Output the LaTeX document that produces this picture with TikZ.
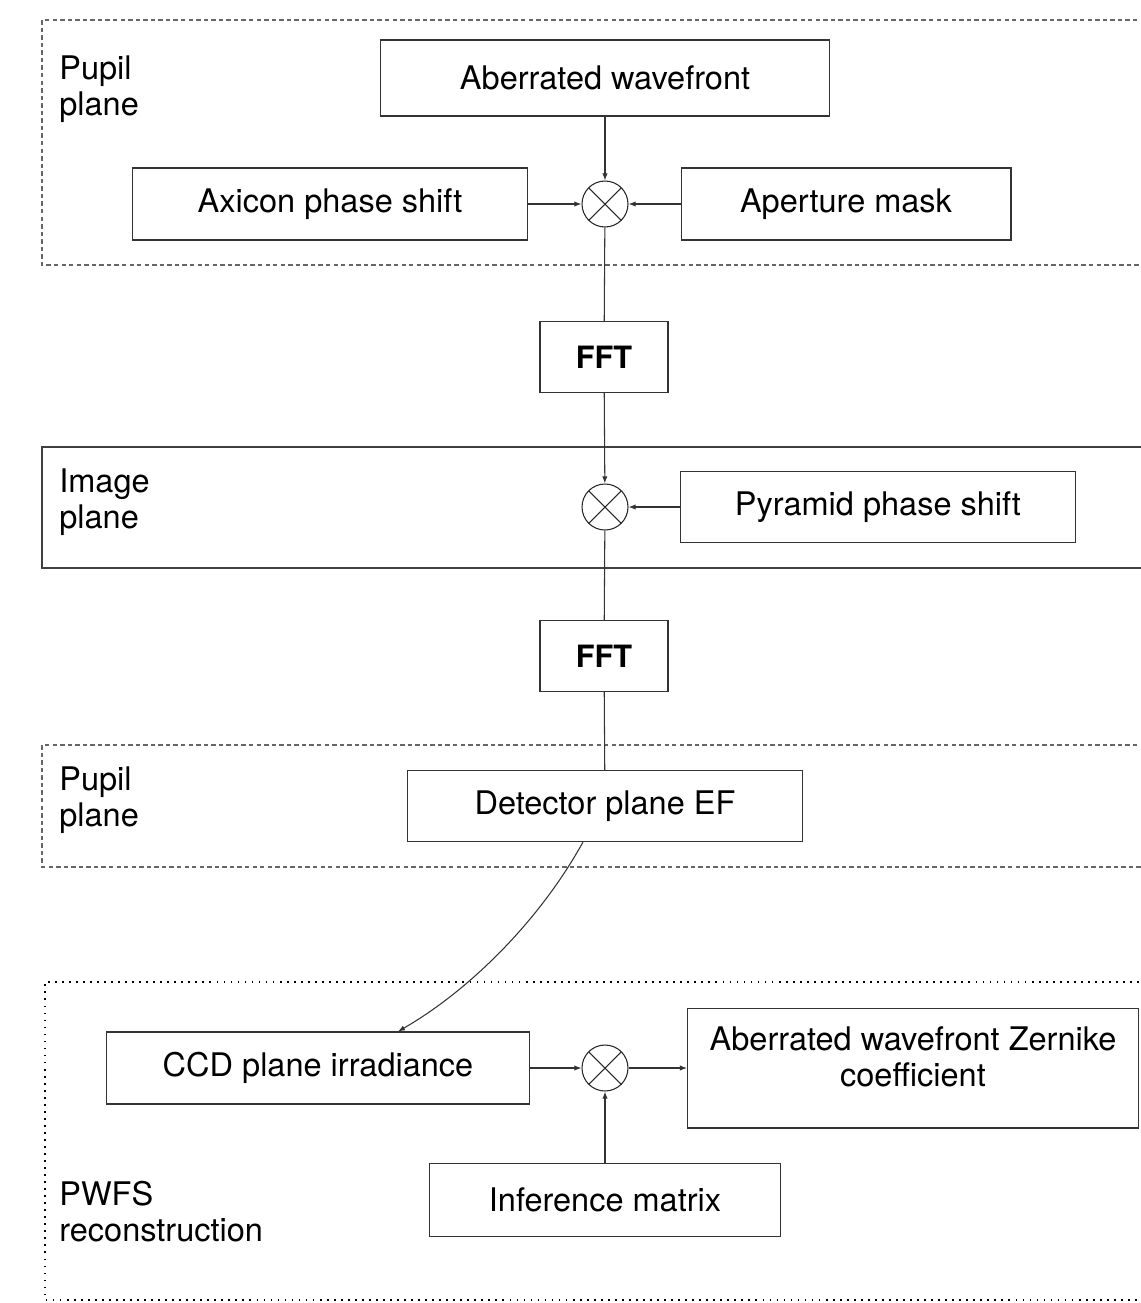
\documentclass[tikz,border=0pt]{standalone}
\usepackage{fontspec}
\setmainfont{TeX Gyre Heros}
\usetikzlibrary{arrows.meta}

\tikzset{
    block/.style={draw=black!80, line width=0.6pt, rectangle, inner sep=0pt, font=\fontsize{18.5}{20.6}\selectfont},
    fftblock/.style={block, minimum width=2.56cm, minimum height=1.42cm, font=\fontsize{17.5}{20.6}\selectfont\bfseries},
    mult/.style={draw=black!85, line width=0.6pt, circle, minimum size=0.92cm, inner sep=0pt,
        path picture={\draw[line width=0.6pt] (path picture bounding box.north west) -- (path picture bounding box.south east)
            (path picture bounding box.north east) -- (path picture bounding box.south west);}},
    planelabel/.style={anchor=north west, inner sep=0pt, align=left, font=\fontsize{18.5}{20.6}\selectfont},
    link/.style={line width=0.6pt, draw=black!80, -{Latex[length=4pt, width=3pt]}},
    wire/.style={line width=0.6pt, draw=black!80},
}

\begin{document}
\begin{tikzpicture}[x=0.02cm, y=-0.02cm]
    \useasboundingbox (0, 0) rectangle (1141, 1303);
    \clip (0, 0) rectangle (1141, 1303);

    % plane frames
    \draw[black!60, line width=0.6pt, dash pattern=on 2.5pt off 1.8pt] (1160, 20) -| (42, 265) -- (1160, 265);
    \draw[black!75, line width=0.6pt] (1160, 447) -| (42, 568) -- (1160, 568);
    \draw[black!60, line width=0.6pt, dash pattern=on 2.5pt off 1.8pt] (1160, 745) -| (42, 867) -- (1160, 867);
    \draw[black, line width=1pt, dash pattern=on 1pt off 3pt] (1160, 982) -| (45, 1300) -- (1160, 1300);

    \node[planelabel] at (59, 55) (P1lbl) {Pupil\\plane};
    \node[planelabel] at (59, 468) (I1lbl) {Image\\plane};
    \node[planelabel] at (59, 766) (P2lbl) {Pupil\\plane};
    \node[planelabel] at (59, 1181) (R1lbl) {PWFS\\reconstruction};

    % pupil plane
    \node[block, minimum width=9cm, minimum height=1.52cm] at (605, 78) (wavefront) {Aberrated wavefront};
    \node[block, minimum width=7.92cm, minimum height=1.44cm] at (330, 204) (axicon) {Axicon phase shift};
    \node[mult] at (605, 204) (M1) {};
    \node[block, minimum width=6.6cm, minimum height=1.44cm] at (846, 204) (aperture) {Aperture mask};
    \node[fftblock] at (604, 357) (FFT1) {FFT};

    % image plane
    \node[mult] at (605, 507) (M2) {};
    \node[block, minimum width=7.9cm, minimum height=1.42cm] at (878, 507) (pyramid) {Pyramid phase shift};
    \node[fftblock] at (604, 656) (FFT2) {FFT};

    % detector
    \node[block, minimum width=7.9cm, minimum height=1.42cm] at (605, 806) (detector) {Detector plane EF};

    % reconstruction
    \node[block, minimum width=8.48cm, minimum height=1.44cm] at (318, 1068) (ccd) {CCD plane irradiance};
    \node[mult] at (605, 1068) (M3) {};
    \node[block, minimum width=9.02cm, minimum height=2.4cm,
        label={[anchor=north, inner sep=0pt, yshift=-0.38cm, align=center, font=\fontsize{18.5}{20.6}\selectfont]north:Aberrated wavefront Zernike\\coefficient}]
        at (913, 1068) (zernike) {};
    \node[block, minimum width=7.04cm, minimum height=1.46cm] at (605, 1200) (inference) {Inference matrix};

    \draw[link] (wavefront) -- (M1);
    \draw[link] (axicon) -- (M1);
    \draw[link] (aperture) -- (M1);
    \draw[wire] (M1) -- (FFT1);
    \draw[link] (FFT1) -- (M2);
    \draw[link] (pyramid) -- (M2);
    \draw[wire] (M2) -- (FFT2);
    \draw[wire] (FFT2) -- (detector);
    \draw[link] ([xshift=-0.44cm]detector.south) .. controls (540, 920) and (470, 990) .. ([xshift=1.6cm]ccd.north);
    \draw[link] (ccd) -- (M3);
    \draw[link] (M3) -- (zernike);
    \draw[link] (inference) -- (M3);
\end{tikzpicture}
\end{document}
